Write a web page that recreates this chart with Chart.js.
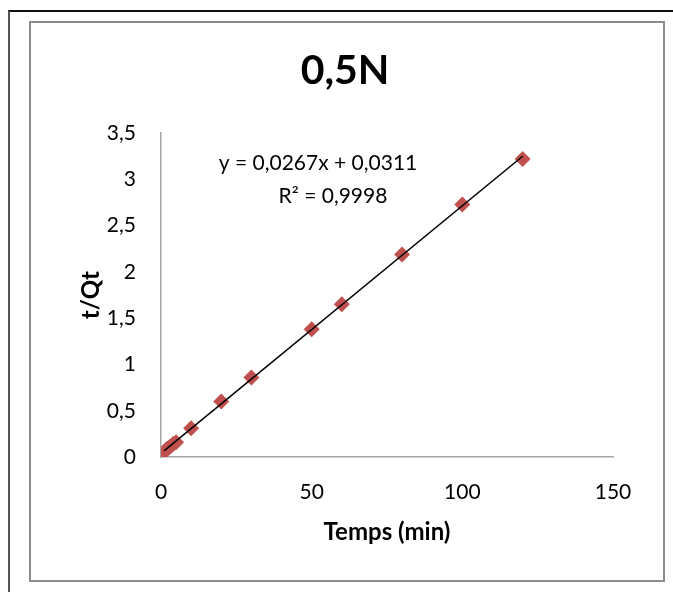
<!DOCTYPE html>
<html>
<head>
<meta charset="utf-8">
<script src="https://cdn.jsdelivr.net/npm/chart.js@4.4.1/dist/chart.umd.min.js"></script>
<style>
  body { margin: 0; background: #fff; }
  #wrap { position: relative; width: 673px; height: 592px; overflow: hidden; }
  #outer { position: absolute; left: 8px; top: 10px; width: 700px; height: 600px;
           border-top: 2px solid #111; border-left: 2px solid #555; }
  #inner { position: absolute; left: 29px; top: 21px; width: 632px; height: 557px;
           border: 2px solid #8c8c8c; }
  canvas { position: absolute; left: 0; top: 0; }
</style>
</head>
<body>
<div id="wrap">
  <div id="outer"></div>
  <div id="inner"></div>
  <canvas id="myChart" width="673" height="592"></canvas>
</div>
<script>
// temps (min) et t/Qt
var temps = [1, 2, 3, 4, 5, 10, 20, 30, 50, 60, 80, 100, 120];
var tQt = [0.05, 0.09, 0.11, 0.14, 0.16, 0.31, 0.6, 0.86, 1.38, 1.65, 2.19, 2.73, 3.22];
var xTicks = [0, 50, 100, 150];
var yTicks = [0, 0.5, 1, 1.5, 2, 2.5, 3, 3.5];
var equation = ['y = 0,0267x + 0,0311', 'R\u00b2 = 0,9998'];

var points = temps.map(function(t, i){ return {x: t, y: tQt[i]}; });

// droite des moindres carres
var n = temps.length, sx = 0, sy = 0, sxx = 0, sxy = 0;
for (var i = 0; i < n; i++) {
  sx += temps[i]; sy += tQt[i];
  sxx += temps[i] * temps[i]; sxy += temps[i] * tQt[i];
}
var pente = (n * sxy - sx * sy) / (n * sxx - sx * sx);
var origine = (sy - pente * sx) / n;
var xmin = Math.min.apply(null, temps), xmax = Math.max.apply(null, temps);
var tendance = [
  {x: xmin, y: origine + pente * xmin},
  {x: xmax, y: origine + pente * xmax}
];

var virgule = function(v){ return String(v).replace('.', ','); };

var equationPlugin = {
  id: 'equation',
  afterDatasetsDraw: function(chart){
    var c = chart.ctx, a = chart.chartArea;
    c.save();
    c.fillStyle = '#000';
    c.font = '21px Lato';
    c.textAlign = 'center';
    c.textBaseline = 'middle';
    c.fillText(equation[0], a.left + 157, a.top + 30);
    c.fillText(equation[1], a.left + 172, a.top + 63);
    c.restore();
  }
};

var ctx = document.getElementById('myChart');
var myChart = new Chart(ctx, {
  type: 'scatter',
  data: {
    datasets: [{
      type: 'line',
      data: tendance,
      borderColor: '#000',
      borderWidth: 1.5,
      pointRadius: 0,
      fill: false
    }, {
      data: points,
      pointStyle: 'rectRot',
      pointRadius: 8,
      backgroundColor: '#c0504d',
      borderColor: '#c0504d',
      borderWidth: 0
    }]
  },
  options: {
    responsive: false,
    animation: false,
    layout: { padding: { left: 77, right: 60, top: 0, bottom: 45 } },
    plugins: {
      legend: { display: false },
      tooltip: { enabled: false },
      title: {
        display: true,
        text: '0,5N',
        color: '#000',
        font: { family: 'Lato', size: 41, weight: 'bold', lineHeight: 1.2 },
        padding: { top: 46, bottom: 38 }
      }
    },
    scales: {
      x: {
        type: 'linear',
        min: 0, max: 150,
        afterBuildTicks: function(s){ s.ticks = xTicks.map(function(v){ return {value: v}; }); },
        afterFit: function(s){ s.height = 592 - 457 - 45; },
        grid: { display: false, drawTicks: false },
        border: { display: true, color: '#a6a6a6', width: 1.5 },
        ticks: { color: '#000', padding: 23, font: { family: 'Lato', size: 21 }, callback: virgule, maxRotation: 0 },
        title: { display: true, text: 'Temps (min)', color: '#000', padding: 0,
                 font: { family: 'Lato', size: 24, weight: 'bold', lineHeight: 1.2 } }
      },
      y: {
        type: 'linear',
        min: 0, max: 3.5,
        afterBuildTicks: function(s){ s.ticks = yTicks.map(function(v){ return {value: v}; }); },
        afterFit: function(s){ s.width = 161 - 77; },
        grid: { display: false, drawTicks: false },
        border: { display: true, color: '#a6a6a6', width: 1.5 },
        ticks: { color: '#000', padding: 25, font: { family: 'Lato', size: 21 }, callback: virgule },
        title: { display: true, text: 't/Qt', color: '#000', padding: { top: 0 },
                 font: { family: 'Lato', size: 24, weight: 'bold', lineHeight: 1.2 } }
      }
    }
  },
  plugins: [equationPlugin]
});
</script>
</body>
</html>
